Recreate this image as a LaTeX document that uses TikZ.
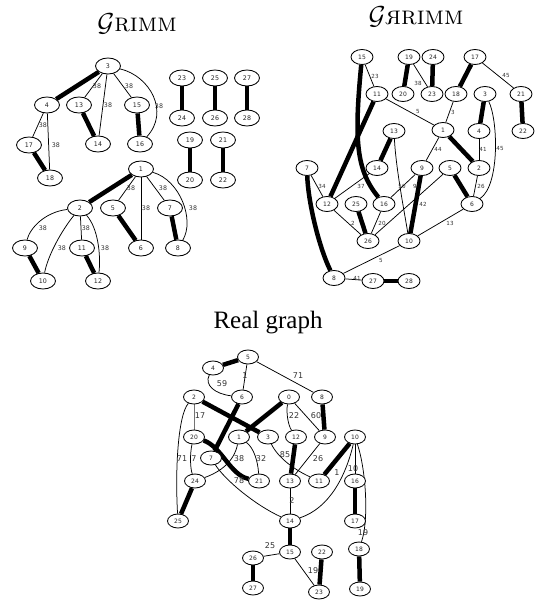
\RequirePackage{fix-cm}
\documentclass[tikz,border=0pt]{standalone}
\usepackage{fontspec}
\usetikzlibrary{shapes.geometric,backgrounds}
\newfontfamily\dvs{DejaVu Sans}
\newfontfamily\libser{Liberation Serif}
\tikzset{
  gnode/.style={ellipse, draw, fill=white, line width=0.85pt, minimum width=25pt, minimum height=16pt, inner sep=0pt, text=black!85, font=\dvs\fontsize{6.3}{6.3}\selectfont},
  rnode/.style={gnode, minimum width=22pt, minimum height=15pt, font=\dvs\fontsize{6}{6}\selectfont},
  cnode/.style={gnode, minimum width=21pt, minimum height=14pt, font=\dvs\fontsize{6}{6}\selectfont},
  tedge/.style={line width=0.75pt},
  bedge/.style={line width=4.5pt},
  glbl/.style={inner sep=0pt, text=black!80, font=\dvs\fontsize{6.3}{6.3}\selectfont},
  rlbl/.style={glbl, font=\dvs\fontsize{5.6}{5.6}\selectfont},
  clbl/.style={glbl, font=\dvs\fontsize{8}{8}\selectfont},
  ttl/.style={inner sep=0pt, anchor=base, font=\fontsize{26}{30}\selectfont},
}
\begin{document}
\begin{tikzpicture}[x=1pt,y=-1pt]
\useasboundingbox (0,0) rectangle (536,601);
% titles
\node[ttl] (t1) at (137,32) {$\mathcal{G}$\textsc{rimm}};
\node[ttl] (t2) at (416,25) {$\mathcal{G}$\reflectbox{\textsc{r}}\textsc{rimm}};
\node[ttl, font=\libser\fontsize{25}{30}\selectfont] (t3) at (268,328) {Real graph};

% ---------------- GRIMM ----------------
\node[gnode] (a3) at (108,66) {3};
\node[gnode] (a4) at (47,105) {4};
\node[gnode] (a13) at (79,105) {13};
\node[gnode] (a15) at (137,105) {15};
\node[gnode] (a14) at (98,144) {14};
\node[gnode] (a16) at (140,144) {16};
\node[gnode] (a17) at (29,145) {17};
\node[gnode] (a18) at (50,178) {18};
\node[gnode] (a23) at (182,78) {23};
\node[gnode] (a24) at (182,118) {24};
\node[gnode] (a25) at (215,78) {25};
\node[gnode] (a26) at (215,118) {26};
\node[gnode] (a27) at (247,78) {27};
\node[gnode] (a28) at (247,118) {28};
\node[gnode] (a19) at (190,140) {19};
\node[gnode] (a20) at (190,180) {20};
\node[gnode] (a21) at (223,140) {21};
\node[gnode] (a22) at (223,180) {22};
\node[gnode] (a1) at (141,169) {1};
\node[gnode] (a2) at (80,208) {2};
\node[gnode] (a5) at (113,208) {5};
\node[gnode] (a7) at (170,208) {7};
\node[gnode] (a6) at (141,248) {6};
\node[gnode] (a8) at (178,248) {8};
\node[gnode] (a9) at (25,248) {9};
\node[gnode] (a11) at (82,248) {11};
\node[gnode] (a10) at (43,281) {10};
\node[gnode] (a12) at (98,281) {12};

\node[glbl] (la1) at (97,86) {38};
\node[glbl] (la2) at (108,105) {38};
\node[glbl] (la3) at (129,86) {38};
\node[glbl] (la4) at (159,106) {38};
\node[glbl] (la5) at (43,125) {38};
\node[glbl] (la6) at (56,145) {38};
\node[glbl] (la7) at (131,188) {38};
\node[glbl] (la8) at (146,208) {38};
\node[glbl] (la9) at (163,188) {38};
\node[glbl] (la10) at (193,208) {38};
\node[glbl] (la11) at (43,228) {38};
\node[glbl] (la12) at (62,248) {38};
\node[glbl] (la13) at (86,228) {38};
\node[glbl] (la14) at (105,248) {38};

% ---------------- GЯRIMM ----------------
\node[rnode] (b15) at (362,57) {15};
\node[rnode] (b19) at (409,57) {19};
\node[rnode] (b24) at (433,57) {24};
\node[rnode] (b17) at (475,57) {17};
\node[rnode] (b11) at (377,94) {11};
\node[rnode] (b20) at (403,94) {20};
\node[rnode] (b23) at (432,94) {23};
\node[rnode] (b18) at (456,94) {18};
\node[rnode] (b3) at (485,94) {3};
\node[rnode] (b21) at (521,94) {21};
\node[rnode] (b1) at (443,130) {1};
\node[rnode] (b4) at (479,131) {4};
\node[rnode] (b22) at (523,131) {22};
\node[rnode] (b13) at (394,131) {13};
\node[rnode] (b7) at (307,168) {7};
\node[rnode] (b14) at (377,168) {14};
\node[rnode] (b9) at (422,168) {9};
\node[rnode] (b5) at (450,168) {5};
\node[rnode] (b2) at (479,168) {2};
\node[rnode] (b12) at (327,204) {12};
\node[rnode] (b25) at (356,204) {25};
\node[rnode] (b16) at (384,204) {16};
\node[rnode] (b6) at (472,204) {6};
\node[rnode] (b26) at (368,241) {26};
\node[rnode] (b10) at (409,241) {10};
\node[rnode] (b8) at (334,278) {8};
\node[rnode] (b27) at (373,281) {27};
\node[rnode] (b28) at (409,281) {28};

\node[rlbl] (lb1) at (375,76) {23};
\node[rlbl] (lb2) at (418,83) {38};
\node[rlbl] (lb3) at (506,76) {45};
\node[rlbl] (lb4) at (418,112) {5};
\node[rlbl] (lb5) at (453,112) {3};
\node[rlbl] (lb6) at (438,149) {44};
\node[rlbl] (lb7) at (483,149) {41};
\node[rlbl] (lb8) at (500,149) {45};
\node[rlbl] (lb9) at (402,186) {50};
\node[rlbl] (lb10) at (415,186) {9};
\node[rlbl] (lb11) at (481,186) {26};
\node[rlbl] (lb12) at (322,186) {34};
\node[rlbl] (lb13) at (361,186) {37};
\node[rlbl] (lb14) at (423,204) {42};
\node[rlbl] (lb15) at (353,223) {2};
\node[rlbl] (lb16) at (382,223) {20};
\node[rlbl] (lb17) at (450,223) {13};
\node[rlbl] (lb18) at (381,260) {5};
\node[rlbl] (lb19) at (357,278) {41};

% ---------------- Real graph ----------------
\node[cnode] (c5) at (248,357) {5};
\node[cnode] (c4) at (213,368) {4};
\node[cnode] (c2) at (194,397) {2};
\node[cnode] (c6) at (242,397) {6};
\node[cnode] (c0) at (289,397) {0};
\node[cnode] (c8) at (322,397) {8};
\node[cnode] (c20) at (194,437) {20};
\node[cnode] (c1) at (239,437) {1};
\node[cnode] (c3) at (268,437) {3};
\node[cnode] (c12) at (296,437) {12};
\node[cnode] (c9) at (325,437) {9};
\node[cnode] (c10) at (355,437) {10};
\node[cnode] (c7) at (211,458) {7};
\node[cnode] (c24) at (195,481) {24};
\node[cnode] (c21) at (259,481) {21};
\node[cnode] (c13) at (290,481) {13};
\node[cnode] (c11) at (319,481) {11};
\node[cnode] (c16) at (355,481) {16};
\node[cnode] (c25) at (178,521) {25};
\node[cnode] (c14) at (290,521) {14};
\node[cnode] (c17) at (355,521) {17};
\node[cnode] (c15) at (290,552) {15};
\node[cnode] (c22) at (322,552) {22};
\node[cnode] (c18) at (359,549) {18};
\node[cnode] (c26) at (253,558) {26};
\node[cnode] (c27) at (253,588) {27};
\node[cnode] (c23) at (319,592) {23};
\node[cnode] (c19) at (360,589) {19};

\node[clbl] (lc1) at (245,376) {1};
\node[clbl] (lc2) at (298,376) {71};
\node[clbl] (lc3) at (222,384) {59};
\node[clbl] (lc4) at (200,416) {17};
\node[clbl] (lc5) at (294,416) {22};
\node[clbl] (lc6) at (316,416) {60};
\node[clbl] (lc7) at (182,459) {71};
\node[clbl] (lc8) at (194,459) {7};
\node[clbl] (lc9) at (239,459) {38};
\node[clbl] (lc10) at (261,459) {32};
\node[clbl] (lc11) at (285,455) {85};
\node[clbl] (lc12) at (318,459) {26};
\node[clbl] (lc13) at (239,481) {78};
\node[clbl] (lc14) at (337,473) {1};
\node[clbl] (lc15) at (353,469) {10};
\node[clbl] (lc16) at (292,501) {2};
\node[clbl] (lc17) at (363,533) {19};
\node[clbl] (lc18) at (270,546) {25};
\node[clbl] (lc19) at (313,571) {19};

\begin{pgfonlayer}{background}
% GRIMM edges
\draw[bedge] (a3) -- (a4);
\draw[tedge] (a3) -- (a13);
\draw[tedge] (a3) -- (a14);
\draw[tedge] (a3) -- (a15);
\draw[tedge] (a3) .. controls (150,76) and (170,112) .. (a16);
\draw[bedge] (a13) -- (a14);
\draw[bedge] (a15) -- (a16);
\draw[tedge] (a4) -- (a17);
\draw[tedge] (a4) -- (a18);
\draw[bedge] (a17) -- (a18);
\draw[bedge] (a23) -- (a24);
\draw[bedge] (a25) -- (a26);
\draw[bedge] (a27) -- (a28);
\draw[bedge] (a19) -- (a20);
\draw[bedge] (a21) -- (a22);
\draw[bedge] (a1) -- (a2);
\draw[tedge] (a1) -- (a5);
\draw[tedge] (a1) -- (a6);
\draw[tedge] (a1) -- (a7);
\draw[tedge] (a1) .. controls (180,180) and (195,220) .. (a8);
\draw[bedge] (a5) -- (a6);
\draw[bedge] (a7) -- (a8);
\draw[tedge] (a2) .. controls (45,212) and (30,228) .. (a9);
\draw[tedge] (a2) .. controls (62,230) and (48,255) .. (a10);
\draw[tedge] (a2) -- (a11);
\draw[tedge] (a2) .. controls (98,228) and (101,255) .. (a12);
\draw[bedge] (a9) -- (a10);
\draw[bedge] (a11) -- (a12);
% GЯRIMM edges
\draw[tedge] (b15) -- (b11);
\draw[bedge] (b15) .. controls (354,140) and (356,170) .. (b16);
\draw[bedge] (b11) -- (b12);
\draw[bedge] (b19) -- (b20);
\draw[tedge] (b19) -- (b23);
\draw[bedge] (b24) -- (b23);
\draw[bedge] (b17) -- (b18);
\draw[tedge] (b17) -- (b21);
\draw[bedge] (b21) -- (b22);
\draw[tedge] (b11) -- (b1);
\draw[tedge] (b18) -- (b1);
\draw[bedge] (b3) -- (b4);
\draw[tedge] (b3) .. controls (498,120) and (500,185) .. (b6);
\draw[tedge] (b4) -- (b2);
\draw[bedge] (b1) -- (b2);
\draw[tedge] (b1) -- (b9);
\draw[bedge] (b13) -- (b14);
\draw[tedge] (b13) .. controls (396,170) and (405,215) .. (b10);
\draw[tedge] (b7) -- (b12);
\draw[bedge] (b7) .. controls (308,200) and (318,245) .. (b8);
\draw[tedge] (b14) -- (b12);
\draw[tedge] (b9) -- (b16);
\draw[bedge] (b9) -- (b10);
\draw[tedge] (b5) -- (b26);
\draw[bedge] (b5) -- (b6);
\draw[tedge] (b2) -- (b6);
\draw[tedge] (b12) -- (b26);
\draw[bedge] (b25) -- (b26);
\draw[tedge] (b16) -- (b26);
\draw[tedge] (b6) -- (b10);
\draw[tedge] (b10) -- (b8);
\draw[tedge] (b8) -- (b27);
\draw[bedge] (b27) -- (b28);
% Real graph edges
\draw[bedge] (c5) -- (c4);
\draw[tedge] (c5) -- (c6);
\draw[tedge] (c5) -- (c8);
\draw[tedge] (c4) .. controls (204,385) and (215,394) .. (c6);
\draw[tedge, black!55] (c2) -- (c20);
\draw[bedge] (c2) -- (c3);
\draw[tedge] (c2) .. controls (178,415) and (175,470) .. (c25);
\draw[bedge] (c6) -- (c7);
\draw[bedge] (c0) -- (c1);
\draw[tedge] (c0) .. controls (286,412) and (288,425) .. (c12);
\draw[tedge] (c0) -- (c9);
\draw[bedge] (c8) -- (c9);
\draw[bedge] (c20) .. controls (222,447) and (230,475) .. (c21);
\draw[tedge] (c20) .. controls (190,452) and (190,468) .. (c24);
\draw[tedge] (c1) .. controls (234,462) and (220,472) .. (c24);
\draw[tedge] (c1) .. controls (254,448) and (258,462) .. (c21);
\draw[tedge] (c3) .. controls (278,458) and (295,470) .. (c11);
\draw[tedge] (c9) -- (c13);
\draw[bedge] (c12) -- (c13);
\draw[bedge] (c10) -- (c11);
\draw[tedge] (c10) .. controls (346,475) and (330,508) .. (c14);
\draw[tedge] (c10) -- (c16);
\draw[tedge] (c10) .. controls (366,470) and (369,520) .. (c18);
\draw[tedge] (c13) -- (c14);
\draw[tedge] (c7) .. controls (225,480) and (255,505) .. (c14);
\draw[bedge] (c14) -- (c15);
\draw[tedge] (c15) -- (c26);
\draw[tedge] (c15) -- (c23);
\draw[bedge] (c22) -- (c23);
\draw[bedge] (c16) -- (c17);
\draw[bedge] (c18) -- (c19);
\draw[bedge] (c24) -- (c25);
\draw[bedge] (c26) -- (c27);
\end{pgfonlayer}
\end{tikzpicture}
\end{document}
